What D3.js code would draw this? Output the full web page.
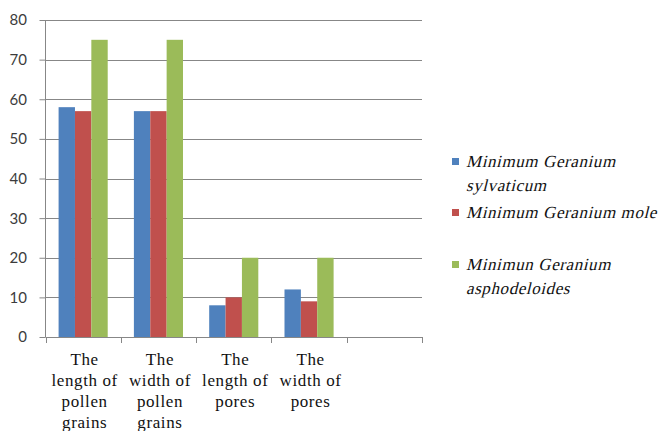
<!DOCTYPE html>
<html>
<head>
<meta charset="utf-8">
<script src="https://cdn.jsdelivr.net/npm/d3@7"></script>
<style>
  html, body { margin: 0; padding: 0; background: #fff; }
  svg { display: block; }
</style>
</head>
<body>
<svg id="chart" width="663" height="431"></svg>
<script>
// Category slots (the last slot is left empty) and their wrapped labels
const categories = ["lengthPollen", "widthPollen", "lengthPores", "widthPores", "blank"];
const categoryLabels = [
  ["The", "length of", "pollen", "grains"],
  ["The", "width of", "pollen", "grains"],
  ["The", "length of", "pores"],
  ["The", "width of", "pores"],
  []
];

// Series
const seriesNames = ["Minimum Geranium sylvaticum", "Minimum Geranium mole", "Minimun Geranium asphodeloides"];
const sylvaticum = [58, 57, 8, 12];
const mole = [57, 57, 10, 9];
const asphodeloides = [75, 75, 20, 20];
const seriesValues = [sylvaticum, mole, asphodeloides];
const seriesColors = ["#4F81BD", "#C0504D", "#9BBB59"];

// Legend text, split over lines
const legendLines = [
  ["Minimum Geranium", "sylvaticum"],
  ["Minimum Geranium mole"],
  ["Minimun Geranium", "asphodeloides"]
];

const yTicks = [0, 10, 20, 30, 40, 50, 60, 70, 80];

const svg = d3.select("#chart");
const plotLeft = 45.5, plotRight = 422, plotTop = 20, plotBottom = 337;

const x = d3.scaleBand().domain(categories).range([plotLeft, plotRight]).padding(0);
const x1 = d3.scaleBand().domain(d3.range(seriesNames.length))
  .range([0, x.bandwidth()]).paddingInner(0).paddingOuter(0.8);
const y = d3.scaleLinear().domain([0, 80]).range([plotBottom, plotTop]);

const axisColor = "#878787";
const serif = "'Liberation Serif', 'Times New Roman', serif";

// Horizontal gridlines
svg.append("g")
  .selectAll("line")
  .data(yTicks.filter(t => t > 0))
  .join("line")
  .attr("x1", plotLeft)
  .attr("x2", plotRight)
  .attr("y1", d => Math.round(y(d)) + 0.5)
  .attr("y2", d => Math.round(y(d)) + 0.5)
  .attr("stroke", axisColor)
  .attr("stroke-width", 1);

// Bars
const groups = svg.append("g").selectAll("g")
  .data(seriesValues)
  .join("g")
  .attr("fill", (d, i) => seriesColors[i]);

groups.each(function (vals, si) {
  d3.select(this).selectAll("rect")
    .data(vals)
    .join("rect")
    .attr("x", (v, ci) => x(categories[ci]) + x1(si))
    .attr("width", x1.bandwidth())
    .attr("y", v => y(v))
    .attr("height", v => y(0) - y(v));
});

// Y axis with outward tick marks
const yAxis = d3.axisLeft(y).tickValues(yTicks).tickSize(6).tickFormat("");
const gy = svg.append("g").attr("transform", `translate(${plotLeft},0)`).call(yAxis);
gy.select(".domain").remove();
gy.selectAll(".tick line").attr("stroke", axisColor);
svg.append("line")
  .attr("x1", plotLeft).attr("x2", plotLeft)
  .attr("y1", plotTop).attr("y2", plotBottom)
  .attr("stroke", axisColor);

// Y tick labels
svg.append("g").selectAll("text")
  .data(yTicks)
  .join("text")
  .attr("x", 27)
  .attr("y", d => y(d))
  .attr("dy", "0.36em")
  .attr("text-anchor", "end")
  .attr("font-family", "Lato, 'Open Sans', sans-serif")
  .attr("font-size", 15)
  .attr("fill", "#3c3c3c")
  .text(d => d);

// X axis baseline and boundary tick marks
svg.append("line")
  .attr("x1", plotLeft).attr("x2", plotRight)
  .attr("y1", plotBottom + 0.5).attr("y2", plotBottom + 0.5)
  .attr("stroke", axisColor);
const boundaries = categories.map(c => x(c)).concat([x.range()[1]]);
svg.append("g").selectAll("line")
  .data(boundaries)
  .join("line")
  .attr("x1", d => Math.round(d) + 0.5)
  .attr("x2", d => Math.round(d) + 0.5)
  .attr("y1", plotBottom)
  .attr("y2", plotBottom + 6)
  .attr("stroke", axisColor);

// Category labels
const lineBaselines = [365, 386, 407, 428];
svg.append("g").selectAll("text")
  .data(categoryLabels)
  .join("text")
  .attr("text-anchor", "middle")
  .attr("font-family", serif)
  .attr("font-size", 17)
  .attr("letter-spacing", 0.6)
  .attr("fill", "#111")
  .each(function (lines, i) {
    const cx = x(categories[i]) + x.bandwidth() / 2 + 1.5;
    d3.select(this).selectAll("tspan")
      .data(lines)
      .join("tspan")
      .attr("x", cx)
      .attr("y", (d, j) => lineBaselines[j])
      .text(d => d);
  });

// Legend: swatch plus slanted serif lines
const legendEntryY = [161, 212, 264];
const legend = svg.append("g").selectAll("g")
  .data(seriesNames)
  .join("g")
  .attr("transform", (d, i) => `translate(452,${legendEntryY[i]})`);
legend.append("rect")
  .attr("x", 0).attr("y", -3)
  .attr("width", 7).attr("height", 7)
  .attr("fill", (d, i) => seriesColors[i]);
legend.each(function (name, i) {
  d3.select(this).selectAll("g.line")
    .data(legendLines[i])
    .join("g")
    .attr("class", "line")
    .attr("transform", (d, j) => `translate(14,${6 + j * 24}) skewX(-14)`)
    .append("text")
    .attr("font-family", serif)
    .attr("font-size", 17)
    .attr("letter-spacing", 0.6)
    .attr("fill", "#111")
    .text(d => d);
});
</script>
</body>
</html>
